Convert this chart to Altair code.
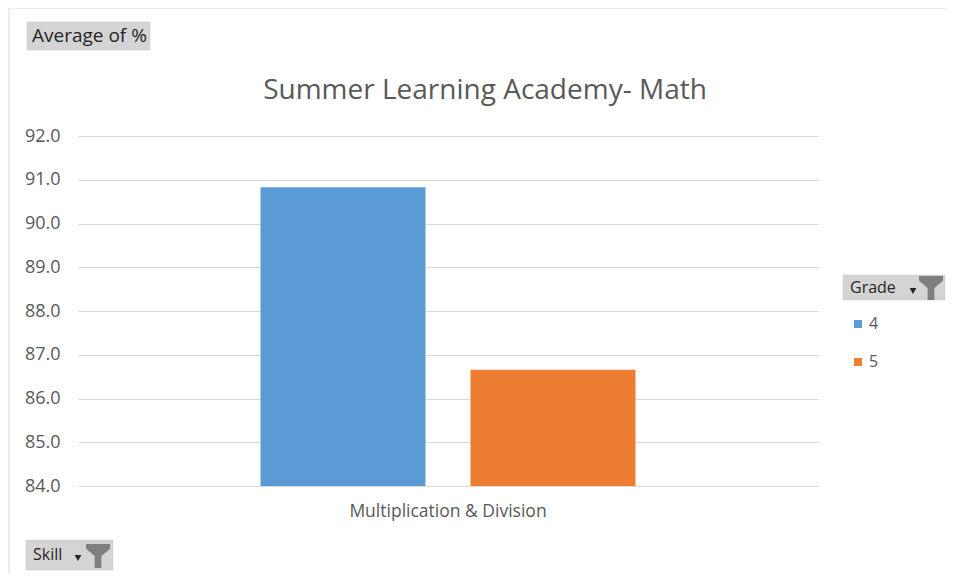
import altair as alt
import pandas as pd

skills = ["Multiplication & Division", "Multiplication & Division"]
grades = ["4", "5"]
averages = [90.83, 86.66]

y_ticks = [84, 85, 86, 87, 88, 89, 90, 91, 92]
colors = ["#5B9BD5", "#ED7D31"]
title_text = "Summer Learning Academy- Math"

FONT = "Open Sans"
W, H = 740, 350

df = pd.DataFrame({"Skill": skills, "Grade": grades, "Average": averages})

bars = alt.Chart(df).mark_bar().encode(
    x=alt.X("Skill:N", title=None,
            scale=alt.Scale(paddingInner=0, paddingOuter=0.4867),
            axis=alt.Axis(labelAngle=0, domain=False, ticks=False, labelPadding=16,
                          labelFontSize=17.5, labelColor="#595959", labelFont=FONT,
                          labelLimit=500)),
    xOffset=alt.XOffset("Grade:N", scale=alt.Scale(paddingInner=0.2143, paddingOuter=0)),
    y=alt.Y("Average:Q", title=None,
            scale=alt.Scale(domain=[84, 92], zero=False, nice=False),
            axis=alt.Axis(values=y_ticks, format=".1f", domain=False, ticks=False,
                          labelPadding=18, labelFontSize=18, labelColor="#595959",
                          labelFont=FONT, gridColor="#D9D9D9", gridWidth=1)),
    y2=alt.datum(84),
    color=alt.Color("Grade:N", scale=alt.Scale(domain=grades, range=colors),
                    legend=alt.Legend(title=None, orient="none", legendX=772, legendY=180,
                                      symbolType="square", symbolSize=64,
                                      symbolStrokeWidth=0, labelFontSize=16,
                                      labelColor="#595959", labelFont=FONT,
                                      rowPadding=22, labelOffset=3, padding=0)),
)

# pivot field buttons and title (decoration)
btn = pd.DataFrame({"d": [0]})
base = alt.Chart(btn)

def button(x1, x2, y1, y2):
    return base.mark_rect(color="#D4D4D4", stroke="#C8C8C8", strokeWidth=0.5).encode(
        x=alt.value(x1), x2=alt.value(x2), y=alt.value(y1), y2=alt.value(y2))

def label(text, x, y, size=15):
    return base.mark_text(text=text, align="left", baseline="middle", font=FONT,
                          fontSize=size, color="#262626").encode(
        x=alt.value(x), y=alt.value(y))

funnel_path = "M-1,-1 L1,-1 L1,-0.6 L0.28,0 L0.28,1 L-0.28,1 L-0.28,0 L-1,-0.6 Z"

def funnel(x, y):
    return base.mark_point(shape=funnel_path, size=576, filled=True, color="#7F7F7F",
                           opacity=1).encode(x=alt.value(x), y=alt.value(y))

def arrow(x, y):
    return base.mark_point(shape="triangle-down", size=45, filled=True, color="#262626",
                           opacity=1).encode(x=alt.value(x), y=alt.value(y))

title = base.mark_text(text=title_text, align="center", baseline="alphabetic", font=FONT,
                       fontSize=28, color="#595959").encode(
    x=alt.value(407), y=alt.value(-37))

border_top = base.mark_rule(color="#D9D9D9").encode(
    x=alt.value(-69), x2=alt.value(870), y=alt.value(-128))
border_left = base.mark_rule(color="#D9D9D9").encode(
    x=alt.value(-69), y=alt.value(-128), y2=alt.value(437))

decor = [
    border_top, border_left, title,
    button(-51, 72, -114, -86), label("Average of %", -46, -100, 19),
    button(-52, 35, 404, 434), label("Skill", -45, 419, 16), arrow(0, 422), funnel(20, 420),
    button(765, 867, 139, 164), label("Grade", 772, 152, 16), arrow(835, 155), funnel(853, 152),
]

chart = alt.layer(bars, *decor).properties(
    width=W, height=H,
    padding={"left": 70, "top": 128, "right": 128, "bottom": 87},
    autosize=alt.AutoSizeParams(type="none"),
).configure(background="white", view=alt.ViewConfig(strokeWidth=0, stroke="transparent"))

chart.save("out.html", embed_options={"renderer": "svg", "actions": False})
